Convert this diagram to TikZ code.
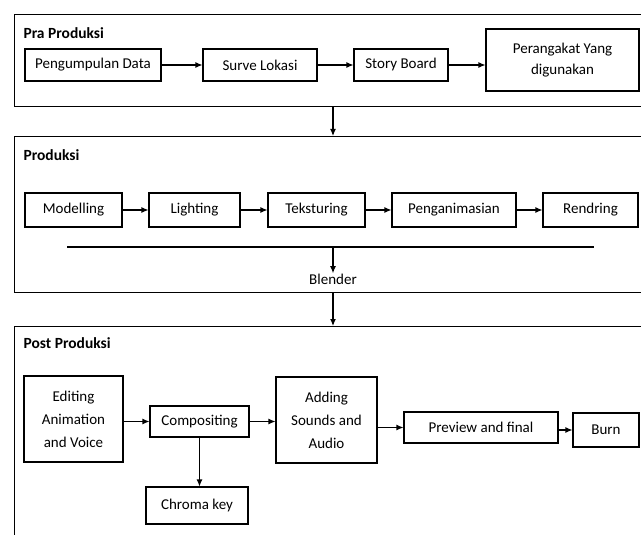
\documentclass[tikz,border=0pt]{standalone}
\usepackage{fontspec}
\setmainfont{Carlito}
\usepackage{tikz}
\usetikzlibrary{arrows.meta}

\tikzset{
    box/.style={shape=rectangle, draw=black, line width=1.1pt, inner sep=0pt, align=center, font=\fontsize{15}{23}\selectfont},
    panel/.style={shape=rectangle, draw=black, line width=1.1pt, inner sep=0pt, anchor=north west, minimum width=646pt},
    title/.style={anchor=west, inner sep=0pt, font=\bfseries\fontsize{15.5}{17}\selectfont},
    >={Latex[length=7pt,width=6pt]}
}

\begin{document}
\begin{tikzpicture}[x=1pt, y=-1pt, line width=1.1pt]
    \useasboundingbox (0,0) rectangle (641,535);
    \node[panel, minimum height=92pt] at (13.5,14) (Pra) {};
    \node[panel, minimum height=156pt] at (13.5,136) (Prod) {};
    \node[panel, minimum height=240pt] at (13.5,326) (Post) {};
    \node[title] at (23,33) (TPra) {Pra Produksi};
    \node[title] at (23,155) (TProd) {Produksi};
    \node[title] at (23,343) (TPost) {Post Produksi};

    \node[box, minimum width=136pt, minimum height=32pt] at (93,65) (A1) {Pengumpulan Data};
    \node[box, minimum width=114pt, minimum height=32pt] at (260,65) (A2) {Surve Lokasi};
    \node[box, minimum width=94pt, minimum height=32pt] at (401,65) (A3) {Story Board};
    \node[box, minimum width=153pt, minimum height=62pt, font=\fontsize{15}{21}\selectfont] at (562.5,60) (A4) {Perangakat Yang\\digunakan};
    \path [->] (A1) edge (A2);
    \path [->] (A2) edge (A3);
    \path [->] (A3.east) edge (A3.east -| A4.west);

    \node[box, minimum width=97pt, minimum height=34pt] at (73.5,210) (B1) {Modelling};
    \node[box, minimum width=91pt, minimum height=34pt] at (194.5,210) (B2) {Lighting};
    \node[box, minimum width=97pt, minimum height=34pt] at (316.5,210) (B3) {Teksturing};
    \node[box, minimum width=124pt, minimum height=34pt] at (454,210) (B4) {Penganimasian};
    \node[box, minimum width=95pt, minimum height=34pt] at (590.5,210) (B5) {Rendring};
    \path [->] (B1) edge (B2);
    \path [->] (B2) edge (B3);
    \path [->] (B3) edge (B4);
    \path [->] (B4) edge (B5);
    \coordinate (L1) at (67,247);
    \coordinate (L2) at (594,247);
    \node[box, draw=none] at (333,279) (Blender) {Blender};
    \draw (L1) -- (L2);
    \path [->] (Blender |- L1) edge (Blender.north);

    \path [->] (Pra.south -| Blender) edge (Prod.north -| Blender);
    \path [->] (Prod.south -| Blender) edge (Post.north -| Blender);

    \node[box, minimum width=99pt, minimum height=86pt] at (73.5,419) (C1) {Editing\\Animation\\and Voice};
    \node[box, minimum width=99pt, minimum height=31pt] at (199.5,421.5) (C2) {Compositing};
    \node[box, minimum width=101pt, minimum height=86pt] at (326.5,420) (C3) {Adding\\Sounds and\\Audio};
    \node[box, minimum width=154pt, minimum height=31pt] at (481,427.5) (C4) {Preview and final};
    \node[box, minimum width=66pt, minimum height=34pt] at (606,430) (C5) {Burn};
    \node[box, minimum width=102pt, minimum height=37pt] at (197,505.5) (C6) {Chroma key};
    \path [->] (C2.west -| C1.east) edge (C2.west);
    \path [->] (C2) edge (C2 -| C3.west);
    \path [->] (C4.west -| C3.east) edge (C4.west);
    \path [->] (C5.west -| C4.east) edge (C5.west);
    \path [->] (C2.south) edge (C2.south |- C6.north);
\end{tikzpicture}
\end{document}
